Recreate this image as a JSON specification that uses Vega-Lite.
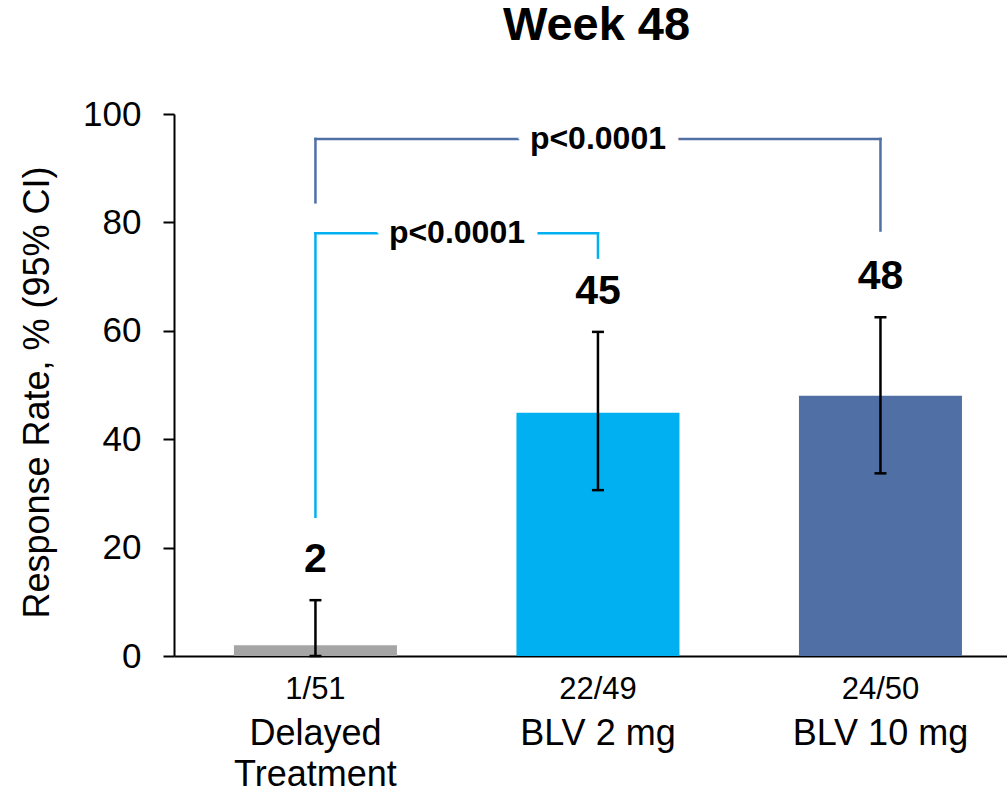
{
  "$schema": "https://vega.github.io/schema/vega-lite/v6.json",
  "width": 833,
  "height": 542,
  "autosize": {"type": "none"},
  "padding": {"left": 174, "top": 114, "right": 0, "bottom": 134},
  "background": "white",
  "config": {"font": "Liberation Sans", "view": {"stroke": null}},
  "title": {"text": "Week 48", "fontSize": 47, "fontWeight": "bold", "color": "black", "anchor": "middle", "baseline": "alphabetic", "offset": 10, "dx": 6},
  "datasets": {
    "groups": [
      {"group": "Delayed Treatment", "frac": "1/51", "value": 2, "lo": 0, "hi": 10.3, "label": "2"},
      {"group": "BLV 2 mg", "frac": "22/49", "value": 44.9, "lo": 30.6, "hi": 59.8, "label": "45"},
      {"group": "BLV 10 mg", "frac": "24/50", "value": 48, "lo": 33.7, "hi": 62.5, "label": "48"}
    ],
    "brackets": [
      {"pair": "10mg", "from": "Delayed Treatment", "to": "BLV 10 mg", "level": 95.4, "fromEnd": 83.7, "toEnd": 78.5, "label": "p<0.0001"},
      {"pair": "2mg", "from": "Delayed Treatment", "to": "BLV 2 mg", "level": 78, "fromEnd": 25.7, "toEnd": 73.5, "label": "p<0.0001"}
    ]
  },
  "layer": [
    {
      "encoding": {
        "x": {
          "field": "group", "type": "nominal", "sort": null,
          "scale": {"domain": ["Delayed Treatment", "BLV 2 mg", "BLV 10 mg"], "paddingInner": 0.423, "paddingOuter": 0.1858, "align": 0.571},
          "axis": {
            "orient": "bottom", "title": null, "domain": true, "domainColor": "black", "domainWidth": 2,
            "ticks": false, "tickSize": 0, "labelAngle": 0, "labelFontSize": 36, "labelColor": "black",
            "labelBaseline": "top", "labelPadding": 60, "labelLineHeight": 41,
            "labelExpr": "datum.label == 'Delayed Treatment' ? ['Delayed', 'Treatment'] : datum.label"
          }
        },
        "y": {
          "type": "quantitative",
          "scale": {"domain": [0, 100], "nice": false},
          "axis": {
            "title": "Response Rate, % (95% CI)", "values": [0, 20, 40, 60, 80, 100], "grid": false,
            "domainColor": "black", "domainWidth": 2, "tickColor": "black", "tickWidth": 2, "tickSize": 11,
            "labelFontSize": 35, "labelColor": "black", "labelPadding": 22,
            "titleFontSize": 36, "titleFontWeight": "normal", "titleColor": "black",
            "titleX": -126, "titleY": 278, "titleBaseline": "alphabetic", "titleAlign": "center", "titleAngle": -90
          }
        },
        "color": {
          "type": "nominal",
          "scale": {"domain": ["Delayed Treatment", "BLV 2 mg", "BLV 10 mg"], "range": ["#A5A5A5", "#00B0F0", "#5070A5"]},
          "legend": null
        }
      },
      "layer": [
        {
          "data": {"name": "groups"},
          "layer": [
            {"mark": {"type": "bar"}, "encoding": {"y": {"field": "value", "type": "quantitative"}, "color": {"field": "group", "type": "nominal"}}},
            {"mark": {"type": "rule", "color": "black", "strokeWidth": 2.5}, "encoding": {"y": {"field": "lo", "type": "quantitative"}, "y2": {"field": "hi"}}},
            {"mark": {"type": "tick", "color": "black", "size": 12, "thickness": 2.5, "opacity": 1}, "encoding": {"y": {"field": "hi", "type": "quantitative"}}},
            {"mark": {"type": "tick", "color": "black", "size": 12, "thickness": 2.5, "opacity": 1}, "encoding": {"y": {"field": "lo", "type": "quantitative"}}},
            {"mark": {"type": "text", "fontSize": 41, "fontWeight": "bold", "color": "black", "baseline": "alphabetic", "dy": -28}, "encoding": {"y": {"field": "hi", "type": "quantitative"}, "text": {"field": "label"}}}
          ]
        },
        {
          "data": {"name": "brackets"},
          "layer": [
            {"mark": {"type": "rule", "strokeWidth": 2.5, "strokeCap": "square"}, "encoding": {"x": {"field": "from", "type": "nominal"}, "x2": {"field": "to"}, "y": {"field": "level", "type": "quantitative"}, "color": {"field": "to", "type": "nominal"}}},
            {"mark": {"type": "rule", "strokeWidth": 2.5, "strokeCap": "square"}, "encoding": {"x": {"field": "from", "type": "nominal"}, "y": {"field": "level", "type": "quantitative"}, "y2": {"field": "fromEnd"}, "color": {"field": "to", "type": "nominal"}}},
            {"mark": {"type": "rule", "strokeWidth": 2.5, "strokeCap": "square"}, "encoding": {"x": {"field": "to", "type": "nominal"}, "y": {"field": "level", "type": "quantitative"}, "y2": {"field": "toEnd"}, "color": {"field": "to", "type": "nominal"}}},
            {
              "transform": [{"filter": "datum.pair == '10mg'"}],
              "encoding": {"x": {"field": "from", "type": "nominal", "bandPosition": 2.233}, "y": {"field": "level", "type": "quantitative"}, "text": {"field": "label"}},
              "layer": [
                {"mark": {"type": "text", "fontSize": 32, "fontWeight": "bold", "color": "white", "stroke": "white", "strokeWidth": 26, "baseline": "middle"}},
                {"mark": {"type": "text", "fontSize": 32, "fontWeight": "bold", "color": "black", "baseline": "middle"}}
              ]
            },
            {
              "transform": [{"filter": "datum.pair == '2mg'"}],
              "encoding": {"x": {"field": "from", "type": "nominal", "bandPosition": 1.368}, "y": {"field": "level", "type": "quantitative"}, "text": {"field": "label"}},
              "layer": [
                {"mark": {"type": "text", "fontSize": 32, "fontWeight": "bold", "color": "white", "stroke": "white", "strokeWidth": 26, "baseline": "middle"}},
                {"mark": {"type": "text", "fontSize": 32, "fontWeight": "bold", "color": "black", "baseline": "middle"}}
              ]
            }
          ]
        }
      ]
    },
    {
      "data": {"name": "groups"},
      "mark": {"type": "tick", "opacity": 0},
      "encoding": {
        "x": {
          "field": "frac", "type": "nominal", "sort": null,
          "scale": {"domain": ["1/51", "22/49", "24/50"], "paddingInner": 0.423, "paddingOuter": 0.1858, "align": 0.571},
          "axis": {
            "orient": "bottom", "title": null, "domain": false, "ticks": false, "tickSize": 0, "labelAngle": 0,
            "labelFontSize": 31, "labelColor": "black", "labelBaseline": "top", "labelPadding": 18
          }
        }
      }
    }
  ],
  "resolve": {"scale": {"x": "independent"}, "axis": {"x": "independent"}}
}
